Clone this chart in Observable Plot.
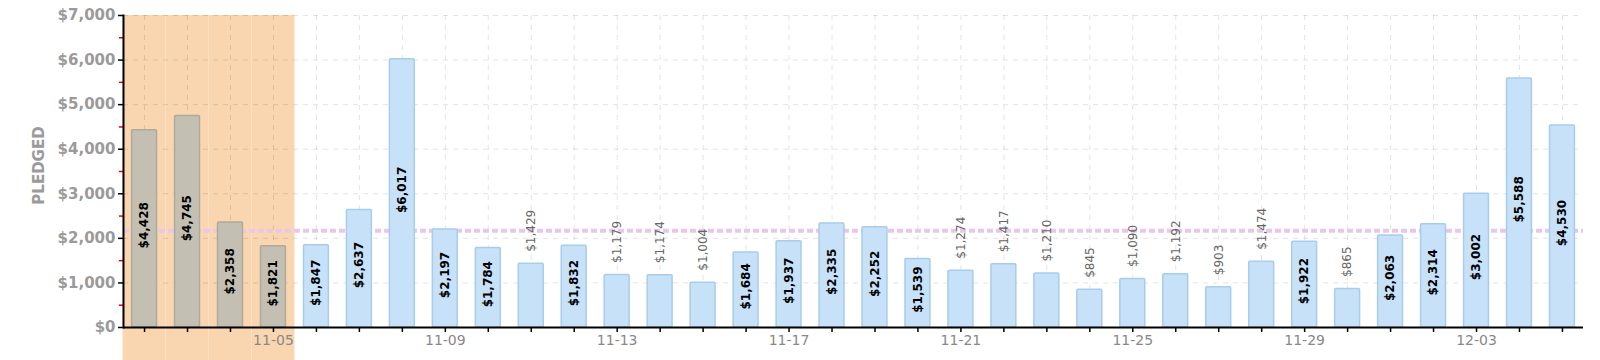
<!DOCTYPE html>
<html>
<head>
<meta charset="utf-8">
<script src="https://cdn.jsdelivr.net/npm/d3@7"></script>
<script src="https://cdn.jsdelivr.net/npm/@observablehq/plot@0.6"></script>
<style>
  body { margin: 0; background: #fff; }
  svg { display: block; }
</style>
</head>
<body>
<div id="chart"></div>
<script>
const dates = ["11-02","11-03","11-04","11-05","11-06","11-07","11-08","11-09","11-10","11-11",
  "11-12","11-13","11-14","11-15","11-16","11-17","11-18","11-19","11-20","11-21",
  "11-22","11-23","11-24","11-25","11-26","11-27","11-28","11-29","11-30","12-01",
  "12-02","12-03","12-04","12-05"];
const pledged = [4428, 4745, 2358, 1821, 1847, 2637, 6017, 2197, 1784, 1429,
  1832, 1179, 1174, 1004, 1684, 1937, 2335, 2252, 1539, 1274,
  1417, 1210, 845, 1090, 1192, 903, 1474, 1922, 865, 2063,
  2314, 3002, 5588, 4530];
const highlighted = ["11-02","11-03","11-04","11-05"];
const average = [2173];
const yTicks = [0, 1000, 2000, 3000, 4000, 5000, 6000, 7000];
const yMinorTicks = [500, 1500, 2500, 3500, 4500, 5500, 6500];
const xTickLabels = ["11-05","11-09","11-13","11-17","11-21","11-25","11-29","12-03"];
const labelThreshold = 1500;

const data = dates.map((d, i) => ({date: d, value: pledged[i], past: highlighted.includes(d)}));
const fmt = d3.format("$,");

const chart = Plot.plot({
  width: 1600,
  height: 360,
  marginLeft: 123,
  marginRight: 17,
  marginTop: 15,
  marginBottom: 33,
  style: {fontFamily: "DejaVu Sans", background: "#fff"},
  x: {type: "band", domain: dates, paddingInner: 0.42, paddingOuter: 0.2, axis: null},
  y: {domain: [0, 7000], axis: null},
  marks: [
    Plot.cell(highlighted, {x: d => d, fill: "#f9d6b0", insetLeft: -9.02, insetRight: -9.02, insetBottom: -33}),
    Plot.ruleY(yTicks.slice(1), {stroke: "#000", strokeOpacity: 0.11, strokeDasharray: "5,5"}),
    Plot.ruleX(dates, {x: d => d, stroke: "#000", strokeOpacity: 0.11, strokeDasharray: "5,5"}),
    Plot.ruleY(average, {stroke: "#e9c6ec", strokeWidth: 4, strokeDasharray: "6,3"}),
    Plot.barY(data, {
      x: "date", y: "value",
      fill: d => d.past ? "#c3bfb2" : "#c6e1f8",
      stroke: d => d.past ? "#aeab9c" : "#a8cde9",
      strokeWidth: 1.5, rx: 1
    }),
    Plot.text(data.filter(d => d.value >= labelThreshold), {
      x: "date", y: d => d.value / 2 + 80, text: d => fmt(d.value),
      rotate: -90, fill: "#000", fontWeight: "bold", fontSize: 12
    }),
    Plot.text(data.filter(d => d.value < labelThreshold), {
      x: "date", y: "value", text: d => fmt(d.value),
      rotate: -90, textAnchor: "start", dy: -12, fill: "#666", fontSize: 12
    }),
    Plot.axisY({ticks: yTicks, tickSize: 5, stroke: "#000", strokeWidth: 1.5, fill: "#9a9a9a",
      tickFormat: fmt, fontSize: 15, fontWeight: "bold", tickPadding: 3, label: null}),
    Plot.axisY({ticks: yMinorTicks, tickSize: 4, stroke: "#e00", strokeWidth: 1.5, tickFormat: () => "", label: null}),
    Plot.axisX({ticks: dates, tickSize: 5, stroke: "#000", strokeWidth: 1.5, fill: "#888",
      tickFormat: d => xTickLabels.includes(d) ? d : "", fontSize: 14, tickPadding: 3, label: null}),
    Plot.ruleY([0], {stroke: "#000", strokeWidth: 2}),
    Plot.frame({anchor: "left", stroke: "#000", strokeWidth: 2}),
    Plot.text(["PLEDGED"], {text: d => d, frameAnchor: "left", textAnchor: "middle", dx: -84, dy: -6, rotate: -90,
      fill: "#9a9a9a", fontWeight: "bold", fontSize: 15})
  ]
});
document.getElementById("chart").appendChild(chart);
</script>
</body>
</html>
